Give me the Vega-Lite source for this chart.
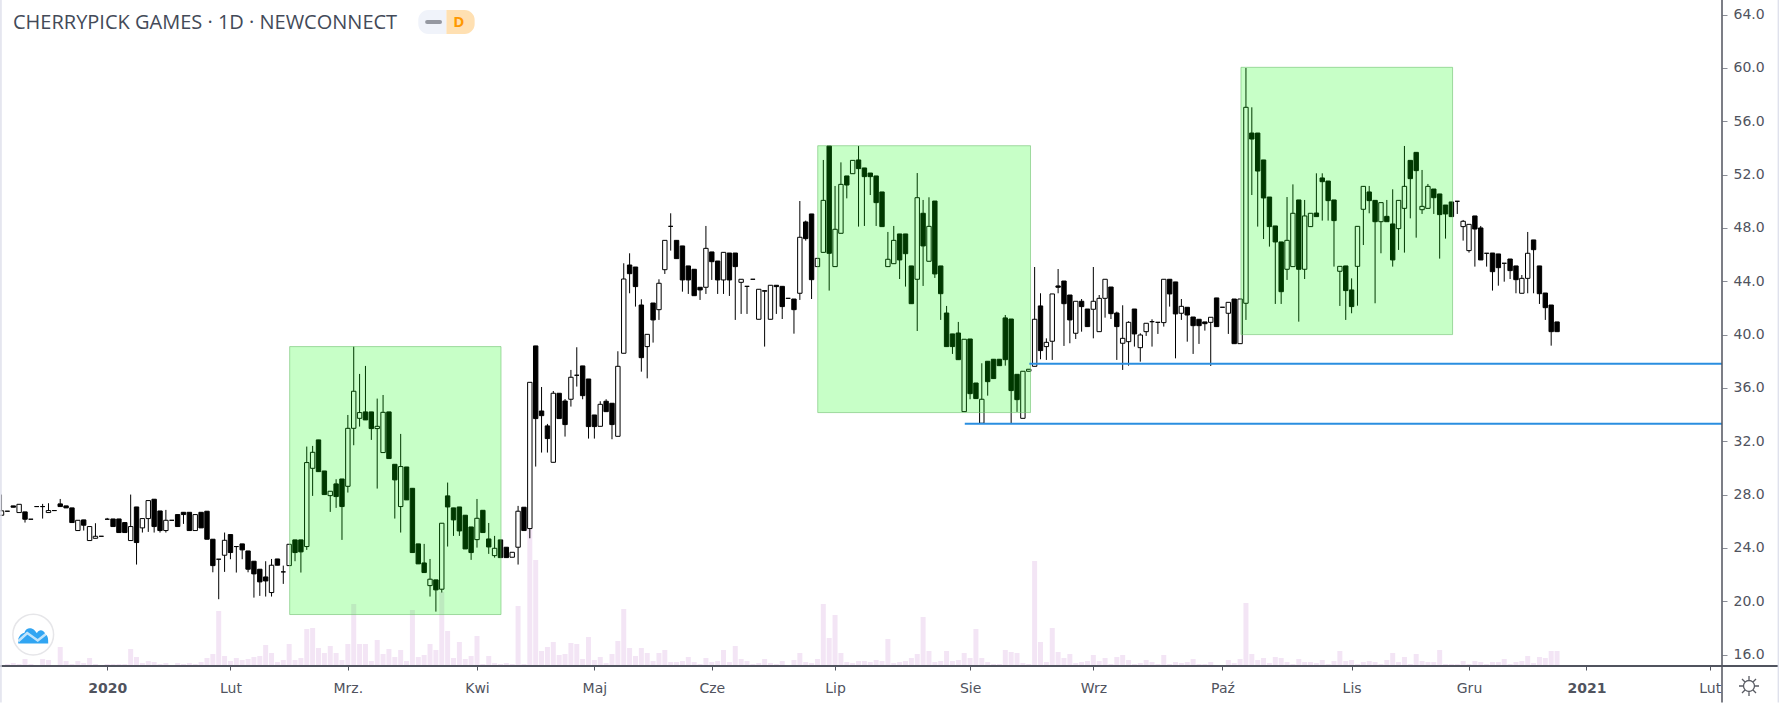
{"$schema":"https://vega.github.io/schema/vega-lite/v6.json","width":1722,"height":666,"autosize":{"type":"none"},"padding":{"left":0,"top":0,"right":57,"bottom":37},"background":"#ffffff","config":{"view":{"stroke":null}},
"title":{"text":"CHERRYPICK GAMES · 1D · NEWCONNECT","anchor":"start","frame":"group","dx":13,"dy":38,"fontSize":20,"font":"Open Sans","fontWeight":"normal","color":"#434a58"},
"datasets":{"candles":[
{"i":-18,"o":26.45,"c":26.78,"h":28,"l":26.45,"v":1},{"i":-17,"o":26.75,"c":26.75,"h":26.75,"l":26.75,"v":2},{"i":-16,"o":27.15,"c":27.05,"h":27.15,"l":27.05,"v":3},{"i":-15,"o":26.65,"c":27.27,"h":27.27,"l":26.65,"v":2},{"i":-14,"o":26.7,"c":26.15,"h":26.7,"l":25.9,"v":7},{"i":-13,"o":26.15,"c":26.15,"h":26.15,"l":26.15,"v":2},{"i":-12,"o":27.1,"c":27.1,"h":27.1,"l":27.1,"v":1},{"i":-11,"o":27.1,"c":27.1,"h":27.3,"l":26.2,"v":7},{"i":-10,"o":26.65,"c":26.8,"h":27.35,"l":26.65,"v":6},{"i":-9,"o":26.8,"c":26.8,"h":26.8,"l":26.8,"v":1},{"i":-8,"o":27.3,"c":27.1,"h":27.67,"l":27.1,"v":19},{"i":-7,"o":27.15,"c":27,"h":27.15,"l":27,"v":5},{"i":-6,"o":27,"c":25.9,"h":27,"l":25.9,"v":2},{"i":-5,"o":25.3,"c":26.07,"h":26.07,"l":25.3,"v":5},{"i":-4,"o":26.1,"c":25.7,"h":26.1,"l":25.3,"v":3},{"i":-3,"o":24.55,"c":25.6,"h":25.6,"l":24.55,"v":8},{"i":-2,"o":24.72,"c":24.87,"h":25.85,"l":24.72,"v":2},{"i":-1,"o":24.87,"c":24.87,"h":24.87,"l":24.87,"v":1},
{"i":0,"o":26.15,"c":26.15,"h":26.25,"l":26.15,"v":2},{"i":1,"o":26.17,"c":25.6,"h":26.17,"l":25.6,"v":2},{"i":2,"o":26.17,"c":25.15,"h":26.17,"l":25.15,"v":2},{"i":3,"o":25.9,"c":25.15,"h":25.9,"l":25.15,"v":2},{"i":4,"o":24.55,"c":25.6,"h":28,"l":24.55,"v":17},{"i":5,"o":27.07,"c":24.4,"h":27.07,"l":22.75,"v":9},{"i":6,"o":25.5,"c":26.2,"h":26.2,"l":25.15,"v":3},{"i":7,"o":26.2,"c":27.55,"h":27.55,"l":25.2,"v":5},{"i":8,"o":27.65,"c":25.6,"h":27.65,"l":25.15,"v":4},{"i":9,"o":26.77,"c":25.3,"h":26.77,"l":25.15,"v":2},{"i":10,"o":25.3,"c":26.07,"h":26.85,"l":25.15,"v":3},{"i":11,"o":26.07,"c":26.07,"h":26.07,"l":26.07,"v":1},{"i":12,"o":26.5,"c":25.6,"h":26.5,"l":25.6,"v":3},{"i":13,"o":26.67,"c":26.5,"h":26.67,"l":25.8,"v":2},{"i":14,"o":26.67,"c":25.3,"h":26.67,"l":25.3,"v":3},{"i":15,"o":25.3,"c":26.5,"h":26.5,"l":25.3,"v":2},{"i":16,"o":26.67,"c":25.5,"h":26.67,"l":25.5,"v":4},{"i":17,"o":26.75,"c":24.65,"h":26.75,"l":24.65,"v":8},{"i":18,"o":24.65,"c":22.67,"h":24.65,"l":22.17,"v":12},{"i":19,"o":23.15,"c":23.15,"h":23.15,"l":20.15,"v":55},
{"i":20,"o":23.45,"c":24.57,"h":25.15,"l":22.2,"v":10},{"i":21,"o":25,"c":23.65,"h":25,"l":23.15,"v":5},{"i":22,"o":24.1,"c":24.1,"h":24.1,"l":22.15,"v":8},{"i":23,"o":24.3,"c":23.85,"h":24.3,"l":23.15,"v":6},{"i":24,"o":23.77,"c":22.4,"h":23.77,"l":22.17,"v":7},{"i":25,"o":23,"c":22.05,"h":23,"l":20.27,"v":9},{"i":26,"o":22.4,"c":21.45,"h":22.4,"l":20.4,"v":10},{"i":27,"o":21.82,"c":21.52,"h":23,"l":20.35,"v":21},{"i":28,"o":20.65,"c":22.7,"h":23.17,"l":20.35,"v":13},{"i":29,"o":23.17,"c":22.7,"h":23.17,"l":22.7,"v":4},{"i":30,"o":22.2,"c":22.2,"h":22.67,"l":21.3,"v":6},{"i":31,"o":22.67,"c":24.27,"h":24.27,"l":22.67,"v":22},{"i":32,"o":24.6,"c":23.65,"h":24.6,"l":23,"v":6},{"i":33,"o":24.6,"c":23.7,"h":24.6,"l":22.15,"v":8},{"i":34,"o":24.1,"c":30.4,"h":31.6,"l":23.85,"v":37},{"i":35,"o":29.97,"c":31.17,"h":31.65,"l":27.9,"v":38},{"i":36,"o":32.1,"c":29.72,"h":32.1,"l":29.72,"v":18},{"i":37,"o":29.77,"c":28,"h":29.77,"l":28,"v":13},{"i":38,"o":27.92,"c":28.25,"h":28.25,"l":26.7,"v":20},{"i":39,"o":28.8,"c":27.85,"h":29.15,"l":27,"v":13},
{"i":40,"o":29.17,"c":27.1,"h":29.17,"l":24.6,"v":6},{"i":41,"o":28.62,"c":32.97,"h":33.97,"l":28.15,"v":22},{"i":42,"o":32.97,"c":35.75,"h":39.1,"l":31.7,"v":62},{"i":43,"o":33.72,"c":34.15,"h":37.05,"l":33.1,"v":22},{"i":44,"o":34.2,"c":33.6,"h":37.65,"l":33.6,"v":22},{"i":45,"o":34.2,"c":32.95,"h":34.2,"l":32.1,"v":5},{"i":46,"o":32.95,"c":33.12,"h":35.2,"l":28.45,"v":26},{"i":47,"o":31.15,"c":34.17,"h":35.47,"l":31.15,"v":12},{"i":48,"o":34.2,"c":30.7,"h":34.2,"l":30.7,"v":17},{"i":49,"o":30.27,"c":29.1,"h":30.27,"l":26.2,"v":9},{"i":50,"o":27.1,"c":30.1,"h":32.55,"l":25.15,"v":16},{"i":51,"o":30.07,"c":27.6,"h":30.07,"l":27.6,"v":5},{"i":52,"o":28.47,"c":23.65,"h":28.47,"l":23.65,"v":56},{"i":53,"o":24.3,"c":22.8,"h":24.3,"l":22.8,"v":9},{"i":54,"o":22.87,"c":22.15,"h":24.3,"l":22.15,"v":11},{"i":55,"o":21.17,"c":21.65,"h":23.17,"l":20.35,"v":22},{"i":56,"o":21.6,"c":20.85,"h":21.6,"l":19.22,"v":16},{"i":57,"o":20.9,"c":25.85,"h":25.85,"l":20.65,"v":74},{"i":58,"o":27.9,"c":27.07,"h":28.9,"l":24.1,"v":35},{"i":59,"o":27,"c":26.1,"h":27,"l":24.9,"v":8},
{"i":60,"o":27.07,"c":25.27,"h":27.07,"l":24.9,"v":24},{"i":61,"o":26.45,"c":23.92,"h":26.45,"l":23.92,"v":7},{"i":62,"o":25.57,"c":23.65,"h":25.57,"l":23.1,"v":10},{"i":63,"o":24.62,"c":26.22,"h":27.67,"l":24.02,"v":30},{"i":64,"o":26.82,"c":25.15,"h":26.82,"l":25.15,"v":2},{"i":65,"o":24.67,"c":24.07,"h":25.87,"l":23.55,"v":10},{"i":66,"o":23.42,"c":23.97,"h":24.9,"l":23.27,"v":3},{"i":67,"o":24.6,"c":23.27,"h":24.6,"l":23.27,"v":2},{"i":68,"o":24.05,"c":23.27,"h":24.05,"l":23.27,"v":3},{"i":69,"o":23.3,"c":23.67,"h":23.67,"l":23.3,"v":2},{"i":70,"o":24.05,"c":26.75,"h":27.15,"l":22.75,"v":60},{"i":71,"o":27.05,"c":25.3,"h":27.05,"l":25.3,"v":2},{"i":72,"o":25.45,"c":36.42,"h":36.42,"l":24.72,"v":137},{"i":73,"o":39.15,"c":33.7,"h":39.15,"l":30.1,"v":106},{"i":74,"o":34.27,"c":33.92,"h":36.07,"l":31.15,"v":15},{"i":75,"o":33.15,"c":32.2,"h":33.3,"l":31.15,"v":19},{"i":76,"o":30.42,"c":35.6,"h":35.77,"l":30.42,"v":24},{"i":77,"o":35.6,"c":33.7,"h":35.6,"l":33.7,"v":11},{"i":78,"o":35.02,"c":33.25,"h":35.17,"l":32.35,"v":12},{"i":79,"o":35.15,"c":36.8,"h":37.35,"l":34.6,"v":23},
{"i":80,"o":36.95,"c":36.95,"h":39.05,"l":36.1,"v":22},{"i":81,"o":37.65,"c":35.42,"h":37.65,"l":35.15,"v":7},{"i":82,"o":36.67,"c":33.1,"h":36.67,"l":32.2,"v":29},{"i":83,"o":33.97,"c":33.1,"h":33.97,"l":32.2,"v":6},{"i":84,"o":33.12,"c":34.77,"h":35,"l":33.12,"v":9},{"i":85,"o":35,"c":34.22,"h":35.15,"l":34.22,"v":3},{"i":86,"o":34.85,"c":33.25,"h":34.85,"l":32.15,"v":12},{"i":87,"o":32.37,"c":37.62,"h":38.75,"l":32.37,"v":25},{"i":88,"o":38.6,"c":44.17,"h":45.35,"l":38.6,"v":57},{"i":89,"o":45.22,"c":44.57,"h":46.1,"l":43.1,"v":18},{"i":90,"o":45.07,"c":43.6,"h":45.07,"l":42.1,"v":10},{"i":91,"o":42.22,"c":38.27,"h":42.65,"l":37.22,"v":18},{"i":92,"o":39.1,"c":40.02,"h":40.02,"l":36.72,"v":13},{"i":93,"o":42.37,"c":41.1,"h":42.37,"l":39.4,"v":5},{"i":94,"o":41.87,"c":43.85,"h":44.15,"l":41.1,"v":13},{"i":95,"o":44.87,"c":47.07,"h":47.07,"l":44.55,"v":16},{"i":96,"o":48.12,"c":48.12,"h":49.1,"l":46.3,"v":4},{"i":97,"o":47.07,"c":45.7,"h":47.07,"l":45.7,"v":4},{"i":98,"o":46.65,"c":44.1,"h":46.65,"l":43.22,"v":5},{"i":99,"o":45.15,"c":44.1,"h":45.15,"l":43.05,"v":9},
{"i":100,"o":44.9,"c":42.92,"h":44.9,"l":42.92,"v":4},{"i":101,"o":43.55,"c":43.35,"h":43.55,"l":42.6,"v":2},{"i":102,"o":43.55,"c":46.47,"h":48.15,"l":43.05,"v":8},{"i":103,"o":46.2,"c":45.47,"h":46.2,"l":44.1,"v":4},{"i":104,"o":45.52,"c":44.1,"h":45.52,"l":43.05,"v":5},{"i":105,"o":44.1,"c":46.17,"h":46.17,"l":43.05,"v":16},{"i":106,"o":46.12,"c":44.1,"h":46.12,"l":42.9,"v":4},{"i":107,"o":46.12,"c":45.1,"h":46.12,"l":41.1,"v":20},{"i":108,"o":43.92,"c":44.15,"h":44.15,"l":41.55,"v":7},{"i":109,"o":43.62,"c":43.62,"h":43.62,"l":41.55,"v":5},{"i":110,"o":44.15,"c":44.15,"h":44.15,"l":44.15,"v":2},{"i":111,"o":41.15,"c":43.4,"h":43.4,"l":41.15,"v":3},{"i":112,"o":43.25,"c":43.3,"h":43.3,"l":39.1,"v":7},{"i":113,"o":41.15,"c":43.7,"h":43.7,"l":41.15,"v":3},{"i":114,"o":43.7,"c":43.6,"h":43.7,"l":41.55,"v":2},{"i":115,"o":43.62,"c":42.1,"h":43.62,"l":41.17,"v":5},{"i":116,"o":42.72,"c":42.72,"h":42.72,"l":42.72,"v":1},{"i":117,"o":42.67,"c":41.87,"h":42.67,"l":40.07,"v":6},{"i":118,"o":43.1,"c":47.3,"h":50.02,"l":42.6,"v":13},{"i":119,"o":48.45,"c":47.2,"h":48.55,"l":47.05,"v":4},
{"i":120,"o":49.05,"c":44.12,"h":49.05,"l":42.67,"v":3},{"i":121,"o":45.1,"c":45.72,"h":45.72,"l":45.1,"v":7},{"i":122,"o":46.17,"c":50.07,"h":53.1,"l":46.17,"v":62},{"i":123,"o":54.15,"c":46.1,"h":54.15,"l":43.3,"v":28},{"i":124,"o":45.1,"c":47.9,"h":51.15,"l":45.1,"v":51},{"i":125,"o":47.6,"c":51.27,"h":52.92,"l":47.6,"v":13},{"i":126,"o":51.9,"c":51.22,"h":51.9,"l":50.22,"v":4},{"i":127,"o":52.07,"c":53.07,"h":53.07,"l":52.07,"v":3},{"i":128,"o":53.1,"c":52.45,"h":54.15,"l":48.1,"v":5},{"i":129,"o":52.5,"c":51.85,"h":52.5,"l":48.15,"v":5},{"i":130,"o":52.12,"c":51.85,"h":52.12,"l":50.47,"v":4},{"i":131,"o":51.9,"c":49.9,"h":51.9,"l":48.15,"v":6},{"i":132,"o":50.7,"c":48.1,"h":50.7,"l":48.1,"v":5},{"i":133,"o":45.1,"c":45.65,"h":47.7,"l":45.1,"v":27},{"i":134,"o":45.32,"c":47.07,"h":48.15,"l":45.32,"v":3},{"i":135,"o":47.55,"c":45.6,"h":47.55,"l":44.17,"v":4},{"i":136,"o":47.55,"c":46.07,"h":47.55,"l":43.6,"v":5},{"i":137,"o":45.15,"c":42.32,"h":45.15,"l":42.32,"v":8},{"i":138,"o":44.15,"c":50.27,"h":52.12,"l":40.27,"v":12},{"i":139,"o":49.1,"c":46.65,"h":50.1,"l":43.65,"v":49},
{"i":140,"o":45.5,"c":48.12,"h":50.3,"l":45.5,"v":15},{"i":141,"o":50.02,"c":44.55,"h":50.02,"l":44.25,"v":4},{"i":142,"o":45.15,"c":43.07,"h":45.15,"l":41.1,"v":5},{"i":143,"o":41.62,"c":39.1,"h":42.15,"l":39.1,"v":15},{"i":144,"o":40.05,"c":39.1,"h":40.05,"l":38.55,"v":5},{"i":145,"o":40.12,"c":38.12,"h":40.95,"l":38.12,"v":6},{"i":146,"o":34.22,"c":39.65,"h":39.65,"l":34.22,"v":13},{"i":147,"o":39.67,"c":35.57,"h":39.67,"l":35.15,"v":8},{"i":148,"o":36.37,"c":35.2,"h":36.37,"l":35.2,"v":37},{"i":149,"o":33.35,"c":35.15,"h":37.85,"l":33.35,"v":8},{"i":150,"o":38,"c":36.47,"h":38,"l":35.42,"v":4},{"i":151,"o":38.15,"c":36.7,"h":38.15,"l":36.7,"v":2},{"i":152,"o":38.15,"c":37.67,"h":38.15,"l":37.67,"v":2},{"i":153,"o":41.25,"c":38.12,"h":41.47,"l":37.67,"v":16},{"i":154,"o":41.17,"c":35.8,"h":41.17,"l":33.35,"v":14},{"i":155,"o":37.02,"c":35.12,"h":37.02,"l":34.2,"v":13},{"i":156,"o":33.72,"c":37.25,"h":37.25,"l":33.72,"v":3},{"i":157,"o":37.25,"c":37.4,"h":37.4,"l":37.25,"v":2},{"i":158,"o":37.62,"c":41.15,"h":45.07,"l":37.62,"v":105},{"i":159,"o":42.15,"c":38.8,"h":43.1,"l":38.15,"v":24},
{"i":160,"o":39.1,"c":39.42,"h":39.72,"l":38.1,"v":4},{"i":161,"o":39.5,"c":43.05,"h":43.05,"l":38.1,"v":38},{"i":162,"o":43.65,"c":43.55,"h":44.92,"l":43.1,"v":14},{"i":163,"o":44.02,"c":42.32,"h":44.02,"l":39.15,"v":8},{"i":164,"o":42.97,"c":41.1,"h":42.97,"l":39.35,"v":12},{"i":165,"o":40.1,"c":42.5,"h":42.5,"l":39.67,"v":3},{"i":166,"o":42.5,"c":42.1,"h":42.67,"l":40.22,"v":4},{"i":167,"o":41.92,"c":40.6,"h":41.92,"l":40.6,"v":5},{"i":168,"o":41.9,"c":42.5,"h":45.07,"l":39.72,"v":11},{"i":169,"o":40.22,"c":42.72,"h":42.97,"l":40.22,"v":5},{"i":170,"o":42.72,"c":44.15,"h":44.15,"l":41.27,"v":8},{"i":171,"o":43.57,"c":41.57,"h":43.57,"l":41.17,"v":2},{"i":172,"o":41.62,"c":40.6,"h":41.72,"l":38.1,"v":9},{"i":173,"o":39.35,"c":39.72,"h":42.2,"l":37.35,"v":11},{"i":174,"o":39.47,"c":40.92,"h":41,"l":37.67,"v":6},{"i":175,"o":41.92,"c":40.05,"h":41.92,"l":39.1,"v":2},{"i":176,"o":39.02,"c":39.97,"h":40.1,"l":37.97,"v":3},{"i":177,"o":40.22,"c":40.85,"h":40.85,"l":39.9,"v":6},{"i":178,"o":40.97,"c":40.97,"h":41.15,"l":39.1,"v":4},{"i":179,"o":40.92,"c":40.92,"h":40.92,"l":40.05,"v":2},
{"i":180,"o":40.9,"c":44.15,"h":44.15,"l":40.6,"v":11},{"i":181,"o":44.15,"c":43.05,"h":44.15,"l":42.1,"v":2},{"i":182,"o":43.95,"c":41.55,"h":43.95,"l":38.22,"v":4},{"i":183,"o":41.6,"c":42.12,"h":42.67,"l":41.1,"v":3},{"i":184,"o":42.05,"c":41.47,"h":42.05,"l":39.47,"v":4},{"i":185,"o":41.32,"c":40.67,"h":41.32,"l":38.55,"v":7},{"i":186,"o":41.15,"c":40.67,"h":41.15,"l":39.3,"v":2},{"i":187,"o":40.95,"c":40.82,"h":40.95,"l":40.3,"v":2},{"i":188,"o":40.92,"c":41.3,"h":41.3,"l":37.65,"v":4},{"i":189,"o":42.75,"c":40.6,"h":42.75,"l":40.6,"v":1},{"i":190,"o":42.05,"c":42.05,"h":42.05,"l":42.05,"v":1},{"i":191,"o":41.6,"c":42.42,"h":42.42,"l":40.05,"v":6},{"i":192,"o":42.67,"c":39.32,"h":42.67,"l":39.32,"v":3},{"i":193,"o":39.32,"c":42.67,"h":42.67,"l":39.32,"v":7},{"i":194,"o":42.35,"c":57.05,"h":60,"l":41.1,"v":63},{"i":195,"o":55.12,"c":54.67,"h":57.05,"l":50.47,"v":12},{"i":196,"o":55.12,"c":52.27,"h":55.12,"l":48.1,"v":6},{"i":197,"o":53.1,"c":50.25,"h":53.1,"l":47.17,"v":8},{"i":198,"o":50.32,"c":48.1,"h":50.32,"l":46.6,"v":3},{"i":199,"o":48.15,"c":46.95,"h":48.15,"l":42.3,"v":9},
{"i":200,"o":46.95,"c":43.22,"h":46.95,"l":42.3,"v":8},{"i":201,"o":44.9,"c":47.07,"h":50.32,"l":44.1,"v":4},{"i":202,"o":45.1,"c":49.1,"h":51.27,"l":45.1,"v":2},{"i":203,"o":50.1,"c":44.9,"h":50.1,"l":40.97,"v":7},{"i":204,"o":44.9,"c":48.9,"h":50.1,"l":44.17,"v":4},{"i":205,"o":48.1,"c":49.1,"h":49.1,"l":48.1,"v":4},{"i":206,"o":49.12,"c":48.85,"h":52.1,"l":48.85,"v":3},{"i":207,"o":51.75,"c":51.47,"h":52.1,"l":48.55,"v":6},{"i":208,"o":51.52,"c":50.05,"h":51.52,"l":48.55,"v":2},{"i":209,"o":50.1,"c":48.55,"h":50.1,"l":45.1,"v":5},{"i":210,"o":44.75,"c":45.12,"h":45.12,"l":42.15,"v":15},{"i":211,"o":45.15,"c":43.3,"h":45.15,"l":41.1,"v":5},{"i":212,"o":43.35,"c":42.1,"h":44.22,"l":41.6,"v":6},{"i":213,"o":45.12,"c":48.12,"h":48.12,"l":42.17,"v":2},{"i":214,"o":49.4,"c":51.12,"h":51.12,"l":46.72,"v":4},{"i":215,"o":50.7,"c":50.05,"h":51.15,"l":49.1,"v":5},{"i":216,"o":50.07,"c":48.47,"h":50.07,"l":42.35,"v":4},{"i":217,"o":48.47,"c":49.9,"h":49.9,"l":46.1,"v":2},{"i":218,"o":48.87,"c":48.47,"h":50.1,"l":48.47,"v":6},{"i":219,"o":48.3,"c":45.6,"h":50.9,"l":45.1,"v":13},
{"i":220,"o":47.95,"c":50.07,"h":50.07,"l":46.35,"v":4},{"i":221,"o":49.47,"c":51.12,"h":54.15,"l":46.15,"v":9},{"i":222,"o":53.07,"c":51.7,"h":53.07,"l":48.72,"v":2},{"i":223,"o":53.67,"c":52.3,"h":53.67,"l":47.27,"v":12},{"i":224,"o":49.37,"c":49.62,"h":52.35,"l":49.05,"v":5},{"i":225,"o":49.47,"c":51.12,"h":51.3,"l":49.47,"v":4},{"i":226,"o":50.92,"c":50.27,"h":50.92,"l":49.05,"v":4},{"i":227,"o":50.55,"c":49,"h":50.55,"l":45.7,"v":16},{"i":228,"o":49.72,"c":49.05,"h":49.72,"l":47.2,"v":2},{"i":229,"o":49.95,"c":48.85,"h":49.95,"l":48.85,"v":2},{"i":230,"o":50,"c":50,"h":50,"l":49.05,"v":2},{"i":231,"o":48.1,"c":48.5,"h":48.6,"l":47.05,"v":5},{"i":232,"o":46.3,"c":48.27,"h":48.27,"l":46.15,"v":2},{"i":233,"o":48.9,"c":47.92,"h":48.9,"l":45.1,"v":5},{"i":234,"o":48,"c":45.6,"h":48.15,"l":45.6,"v":4},{"i":235,"o":46.1,"c":46.1,"h":46.1,"l":45.1,"v":2},{"i":236,"o":46.12,"c":44.72,"h":46.12,"l":43.3,"v":4},{"i":237,"o":46.05,"c":45.02,"h":46.05,"l":43.67,"v":4},{"i":238,"o":45.35,"c":45.35,"h":45.35,"l":43.97,"v":7},{"i":239,"o":45.67,"c":44.8,"h":45.67,"l":44.17,"v":2},
{"i":240,"o":45.15,"c":44.12,"h":45.15,"l":43.1,"v":4},{"i":241,"o":43.1,"c":44.22,"h":44.47,"l":43.1,"v":5},{"i":242,"o":44.22,"c":46.1,"h":47.7,"l":43.1,"v":10},{"i":243,"o":47.1,"c":46.37,"h":47.1,"l":43.1,"v":3},{"i":244,"o":45.15,"c":43.07,"h":45.15,"l":42.3,"v":9},{"i":245,"o":43.12,"c":42.02,"h":43.12,"l":41.1,"v":8},{"i":246,"o":42.22,"c":40.22,"h":42.22,"l":39.17,"v":15},{"i":247,"o":40.95,"c":40.22,"h":40.95,"l":40.22,"v":15}
],
"zones":[{"a":31.09,"b":67.09,"lo":19,"hi":39.1},{"a":121.05,"b":157.3,"lo":34.15,"hi":54.17},{"a":193.15,"b":229.2,"lo":40,"hi":60.05}],
"levels":[{"a":157.1,"b":275.1,"p":37.82},{"a":146.1,"b":275.1,"p":33.32}]},
"layer":[
{"data":{"name":"candles"},"mark":{"type":"bar","size":5,"color":"#f3e5f5","orient":"vertical"},"encoding":{"x":{"field":"i","type":"quantitative","title":null,"scale":{"domain":[-18.26,275.1],"nice":false,"zero":false,"padding":0},"axis":{"orient":"bottom","title":null,"values":[0,21,41,63,83,103,124,147,168,190,212,232,252,273],"labelExpr":"{'0':'2020','21':'Lut','41':'Mrz.','63':'Kwi','83':'Maj','103':'Cze','124':'Lip','147':'Sie','168':'Wrz','190':'Paź','212':'Lis','232':'Gru','252':'2021','273':'Lut'}[''+datum.value]","labelFont":"DejaVu Sans","labelFontSize":14,"labelColor":"#50535e","labelFontWeight":{"condition":{"test":"datum.value==0||datum.value==252","value":"bold"},"value":"normal"},"labelPadding":11,"tickSize":4,"tickColor":"#50535e","domain":false,"grid":false,"labelOverlap":false,"labelFlush":false}},"y":{"field":"v","type":"quantitative","scale":{"domain":[0,666],"nice":false},"axis":null}}},
{"layer":[
{"data":{"name":"candles"},"mark":{"type":"rule","color":"#000000","strokeWidth":1},"encoding":{"x":{"field":"i","type":"quantitative"},"y":{"field":"l","type":"quantitative","title":null,"scale":{"domain":[15.14,65.1],"nice":false,"zero":false},"axis":{"orient":"right","title":null,"values":[16,20,24,28,32,36,40,44,48,52,56,60,64],"format":".1f","labelFont":"DejaVu Sans","labelFontSize":14,"labelColor":"#50535e","labelPadding":6,"tickSize":5,"tickColor":"#8a8d96","domain":false,"grid":false,"labelOverlap":false,"labelFlush":false}},"y2":{"field":"h"}}},
{"data":{"name":"candles"},"mark":{"type":"bar","size":4.4,"stroke":"#000000","strokeWidth":1,"orient":"vertical"},"encoding":{"x":{"field":"i","type":"quantitative"},"y":{"field":"o","type":"quantitative"},"y2":{"field":"c"},"fill":{"condition":{"test":"datum.c>datum.o","value":"#ffffff"},"value":"#000000"}}},
{"data":{"name":"zones"},"mark":{"type":"rect","fill":"#00ff00","fillOpacity":0.22,"stroke":"#6fbf6f","strokeOpacity":0.6,"strokeWidth":1},"encoding":{"x":{"field":"a","type":"quantitative"},"x2":{"field":"b"},"y":{"field":"lo","type":"quantitative"},"y2":{"field":"hi"}}},
{"data":{"name":"levels"},"mark":{"type":"rule","color":"#2a8ee0","strokeWidth":2},"encoding":{"x":{"field":"a","type":"quantitative"},"x2":{"field":"b"},"y":{"field":"p","type":"quantitative"}}},
{"data":{"values":[{"x":275.1,"a":65.1,"b":12.4}]},"mark":{"type":"rule","color":"#50535e","strokeWidth":1.5,"clip":false},"encoding":{"x":{"field":"x","type":"quantitative"},"y":{"field":"a","type":"quantitative"},"y2":{"field":"b"}}},
{"data":{"values":[{"a":-18.26,"b":284.8,"y":15.14}]},"mark":{"type":"rule","color":"#50535e","strokeWidth":2,"clip":false},"encoding":{"x":{"field":"a","type":"quantitative"},"x2":{"field":"b"},"y":{"field":"y","type":"quantitative"}}},
{"data":{"values":[{"x":-18.1,"a":65.1,"b":12.4},{"x":284.7,"a":65.1,"b":12.4}]},"mark":{"type":"rule","color":"#dfe1ec","strokeWidth":1.5,"clip":false},"encoding":{"x":{"field":"x","type":"quantitative"},"y":{"field":"a","type":"quantitative"},"y2":{"field":"b"}}},
{"data":{"values":[{"a":53.0,"b":57.8,"lo":62.55,"hi":64.35}]},"mark":{"type":"rect","fill":"#f0f3fa","cornerRadiusTopLeft":10,"cornerRadiusBottomLeft":10},"encoding":{"x":{"field":"a","type":"quantitative"},"x2":{"field":"b"},"y":{"field":"lo","type":"quantitative"},"y2":{"field":"hi"}}},
{"data":{"values":[{"a":57.8,"b":62.6,"lo":62.55,"hi":64.35}]},"mark":{"type":"rect","fill":"#ffe0b2","cornerRadiusTopRight":10,"cornerRadiusBottomRight":10},"encoding":{"x":{"field":"a","type":"quantitative"},"x2":{"field":"b"},"y":{"field":"lo","type":"quantitative"},"y2":{"field":"hi"}}},
{"data":{"values":[{"a":54.5,"b":56.7,"y":63.45}]},"mark":{"type":"rule","color":"#9598a1","strokeWidth":4,"strokeCap":"round"},"encoding":{"x":{"field":"a","type":"quantitative"},"x2":{"field":"b"},"y":{"field":"y","type":"quantitative"}}},
{"data":{"values":[{"x":59.9,"y":63.45,"t":"D"}]},"mark":{"type":"text","color":"#ff9800","font":"Open Sans","fontSize":15,"fontWeight":"bold"},"encoding":{"x":{"field":"x","type":"quantitative"},"y":{"field":"y","type":"quantitative"},"text":{"field":"t"}}},
{"data":{"values":[{"x":-12.6,"y":17.5}]},"mark":{"type":"point","filled":true,"fill":"#ffffff","fillOpacity":1,"stroke":"#e6e6e9","strokeWidth":1.5,"strokeOpacity":1,"shape":"circle","size":1660},"encoding":{"x":{"field":"x","type":"quantitative"},"y":{"field":"y","type":"quantitative"}}},
{"data":{"values":[{"x":-12.6,"y":17.5}]},"mark":{"type":"point","filled":true,"fill":"#31a5f2","fillOpacity":1,"stroke":null,"size":900,"shape":"M-1,0.6 L-1,0.3 C-0.9,0 -0.7,-0.1 -0.6,-0.1 C-0.5,-0.4 -0.3,-0.45 -0.1,-0.4 C0.1,-0.35 0.2,-0.1 0.25,-0.1 C0.4,-0.4 0.7,-0.3 0.8,-0.05 C1,0.1 1,0.3 1,0.6 Z"},"encoding":{"x":{"field":"x","type":"quantitative"},"y":{"field":"y","type":"quantitative"}}},
{"data":{"values":[{"x":-12.6,"y":17.5}]},"mark":{"type":"point","filled":false,"stroke":"#ffffff","strokeWidth":2.5,"strokeOpacity":1,"size":900,"shape":"M-1,0.45 L-0.4,-0.1 L0.3,0.4 L1,-0.15"},"encoding":{"x":{"field":"x","type":"quantitative"},"y":{"field":"y","type":"quantitative"}}},
{"data":{"values":[{"x":279.7,"y":13.64}]},"mark":{"type":"point","filled":false,"stroke":"#131722","strokeWidth":1.3,"strokeOpacity":1,"size":400,"clip":false,"shape":"M0.55,0 A0.55,0.55 0 1,1 -0.55,0 A0.55,0.55 0 1,1 0.55,0 Z M0,-1 L0,-0.55 M0,1 L0,0.55 M-1,0 L-0.55,0 M1,0 L0.55,0 M-0.7,-0.7 L-0.4,-0.4 M0.7,-0.7 L0.4,-0.4 M-0.7,0.7 L-0.4,0.4 M0.7,0.7 L0.4,0.4"},"encoding":{"x":{"field":"x","type":"quantitative"},"y":{"field":"y","type":"quantitative"}}}
]}
],"resolve":{"scale":{"y":"independent"}}}
